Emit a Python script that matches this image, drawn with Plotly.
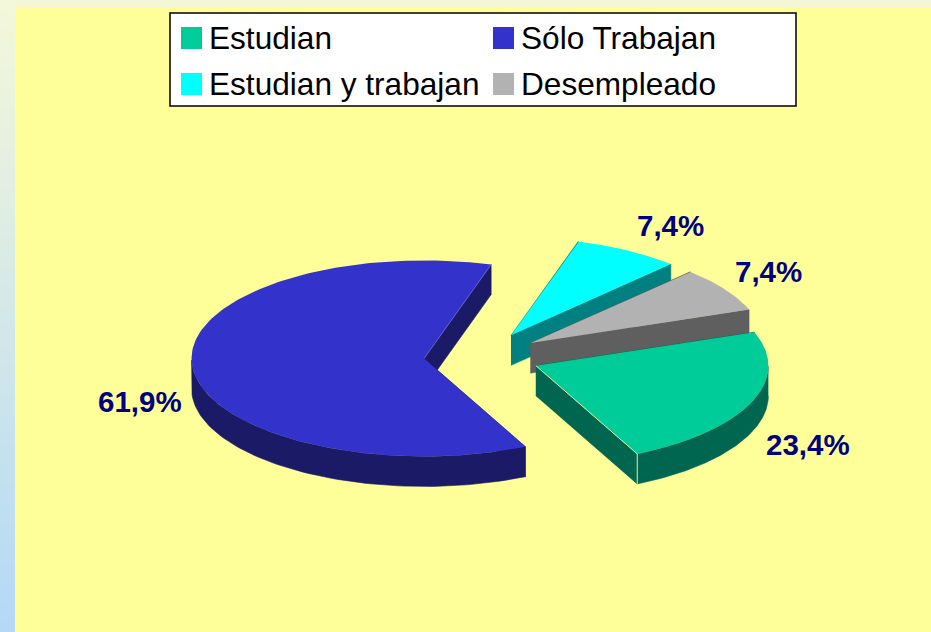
"""Exploded 3D-look pie of labour status, drawn as filled polygons computed from the shares."""
import numpy as np
import plotly.graph_objects as go

# data (clockwise from the start angle, same order as the legend)
categories = ["Estudian", "Sólo Trabajan", "Estudian y trabajan", "Desempleado"]
shares = [23.4, 61.9, 7.4, 7.4]
top_colors = ["#00CC99", "#3333CC", "#00FFFF", "#B2B2B2"]
wall_colors = ["#006650", "#1A1A66", "#008080", "#5F5F5F"]

# pie geometry, in page pixels
CX, CY = 482, 356.5
RX, RY = 232.5, 98
DEPTH = 30
EXPLODE = 0.25
START_ANGLE = 70  # degrees clockwise from 12 o'clock
DRAW_ORDER = [1, 2, 3, 0]  # back to front

LABEL_POS = [(808, 444), (140, 401), (670, 225), (768, 271)]
LEGEND_POS = [(181, 38), (493, 38), (181, 84), (493, 84)]


def rim(ang, ox, oy):
    rad = np.radians(ang)
    return ox + RX * np.sin(rad), oy - RY * np.cos(rad)


def polygon(fig, xs, ys, color, line=0.6):
    fig.add_trace(go.Scatter(
        x=xs, y=ys, mode="lines", fill="toself", fillcolor=color,
        line=dict(color=color, width=line), hoverinfo="skip", showlegend=False,
    ))


fig = go.Figure()

# left gradient strip
strip_edges = np.linspace(0, 632, 65)
fig.add_trace(go.Heatmap(
    x=[0, 15], y=strip_edges, z=[[i] for i in range(64)],
    colorscale=[[0, "rgb(244,248,218)"], [1, "rgb(180,216,246)"]],
    showscale=False, hoverinfo="skip",
))

fractions = np.array(shares) / sum(shares)
ends = START_ANGLE + np.cumsum(fractions) * 360
starts = ends - fractions * 360

for i in DRAW_ORDER:
    a0, a1 = starts[i], ends[i]
    mid = np.radians((a0 + a1) / 2)
    ox = CX + EXPLODE * RX * np.sin(mid)
    oy = CY - EXPLODE * RY * np.cos(mid)
    angs = np.linspace(a0, a1, 160)
    rx, ry = rim(angs, ox, oy)

    # radial side walls
    for k in (0, -1):
        polygon(fig, [ox, rx[k], rx[k], ox], [oy, ry[k], ry[k] + DEPTH, oy + DEPTH], wall_colors[i])
    # outer wall, only the part that faces the viewer
    front = np.cos(np.radians(angs)) <= 0
    if front.any():
        fx, fy = rx[front], ry[front]
        polygon(fig, np.r_[fx, fx[::-1]], np.r_[fy, fy[::-1] + DEPTH], wall_colors[i])
    # top face
    polygon(fig, np.r_[ox, rx, ox], np.r_[oy, ry, oy], top_colors[i], line=0)

    # pale edge highlights that the original rendering has on some slices
    if categories[i] == "Estudian":
        fig.add_trace(go.Scatter(
            x=[ox, rx[-1], rx[-1]], y=[oy, ry[-1], ry[-1] + DEPTH], mode="lines",
            line=dict(color="#E6EE9C", width=1), hoverinfo="skip", showlegend=False,
        ))
    if categories[i] == "Sólo Trabajan":
        fig.add_trace(go.Scatter(
            x=[ox, rx[-1]], y=[oy, ry[-1]], mode="lines",
            line=dict(color="#6A6AD0", width=0.8), hoverinfo="skip", showlegend=False,
        ))

shapes = [
    dict(type="rect", x0=15, x1=931, y0=0, y1=8, fillcolor="rgb(243,247,214)",
         line_width=0, layer="below"),
    dict(type="rect", x0=170, x1=796, y0=13, y1=106, fillcolor="white",
         line=dict(color="black", width=1.5)),
]
annotations = []
for name, color, (lx, ly) in zip(categories, top_colors, LEGEND_POS):
    shapes.append(dict(type="rect", x0=lx, x1=lx + 21, y0=ly - 11, y1=ly + 11,
                       fillcolor=color, line_width=0))
    annotations.append(dict(x=lx + 26, y=ly, text=name, showarrow=False, xanchor="left",
                            yanchor="middle", font=dict(size=31.6, color="black")))
for share, (lx, ly) in zip(shares, LABEL_POS):
    annotations.append(dict(x=lx, y=ly, text=f"<b>{share:.1f}%</b>".replace(".", ","),
                            showarrow=False, font=dict(size=29.5, color="#000080")))

fig.update_layout(
    width=931, height=632,
    margin=dict(l=0, r=0, t=0, b=0),
    paper_bgcolor="#FFFF99", plot_bgcolor="rgba(0,0,0,0)",
    font=dict(family="Liberation Sans, Arial, sans-serif"),
    xaxis=dict(range=[0, 931], visible=False, fixedrange=True),
    yaxis=dict(range=[632, 0], visible=False, fixedrange=True),
    shapes=shapes, annotations=annotations, showlegend=False,
)

fig.write_html("out.html", config=dict(displayModeBar=False),
               post_script="document.body.style.margin='0';")
